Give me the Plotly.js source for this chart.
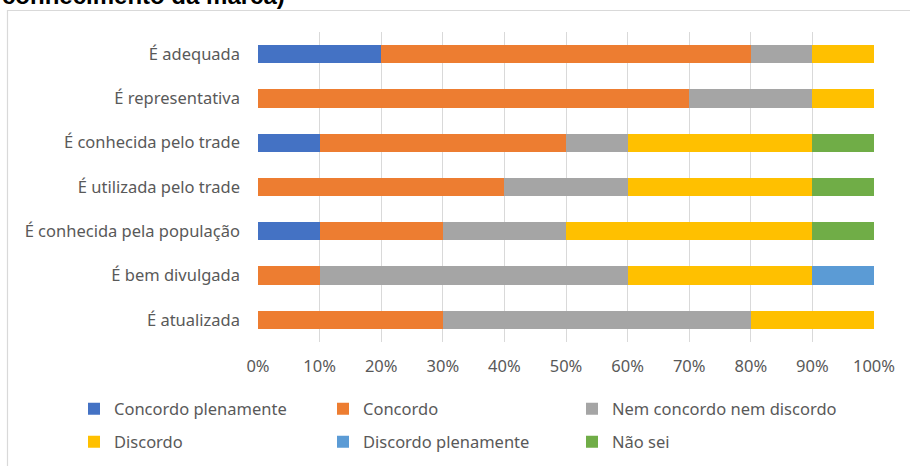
<!DOCTYPE html>
<html>
<head>
<meta charset="utf-8">
<script src="https://cdn.plot.ly/plotly-3.0.1.min.js"></script>
<style>html,body{margin:0;padding:0;background:#fff;}#chart{width:910px;height:466px;}</style>
</head>
<body>
<div id="chart"></div>
<script>
const categories = ["É adequada", "É representativa", "É conhecida pelo trade", "É utilizada pelo trade", "É conhecida pela população", "É bem divulgada", "É atualizada"];
const seriesNames = ["Concordo plenamente", "Concordo", "Nem concordo nem discordo", "Discordo", "Discordo plenamente", "Não sei"];
const concordoPlenamente = [0.20, 0.00, 0.10, 0.00, 0.10, 0.00, 0.00];
const concordo           = [0.60, 0.70, 0.40, 0.40, 0.20, 0.10, 0.30];
const nemNem             = [0.10, 0.20, 0.10, 0.20, 0.20, 0.50, 0.50];
const discordo           = [0.10, 0.10, 0.30, 0.30, 0.40, 0.30, 0.20];
const discordoPlenamente = [0.00, 0.00, 0.00, 0.00, 0.00, 0.10, 0.00];
const naoSei             = [0.00, 0.00, 0.10, 0.10, 0.10, 0.00, 0.00];
const seriesValues = [concordoPlenamente, concordo, nemNem, discordo, discordoPlenamente, naoSei];
const colors = ["#4472C4", "#ED7D31", "#A5A5A5", "#FFC000", "#5B9BD5", "#70AD47"];

const FONT = "Noto Sans, Open Sans, sans-serif";
const GREY = "#595959";
const FS = 16.5;

const legendIds = ["legend", "legend2", "legend3", "legend4", "legend5", "legend6"];

const traces = seriesNames.map((name, i) => ({
  type: "bar",
  orientation: "h",
  name: name,
  y: categories,
  x: seriesValues[i],
  marker: {color: colors[i], line: {width: 0}},
  legend: legendIds[i],
  hoverinfo: "name+x"
}));

const W = 910, H = 466;
const L = 258, R = 36, T = 32, B = 124;
const pw = W - L - R, ph = H - T - B;
const px = v => (v - L) / pw;
const py = v => (H - B - v) / ph;

// legend text start positions (px) and row centres (px)
const colX = [74, 323, 572];
const rowY = [409, 442];

const layout = {
  width: W, height: H,
  margin: {l: L, r: R, t: T, b: B, autoexpand: false},
  paper_bgcolor: "#ffffff",
  plot_bgcolor: "#ffffff",
  barmode: "stack",
  bargap: 0.59,
  font: {family: FONT, size: FS, color: GREY},
  xaxis: {
    range: [0, 1],
    dtick: 0.1,
    tickformat: ".0%",
    showgrid: true,
    gridcolor: "#D9D9D9",
    gridwidth: 1,
    zeroline: false,
    showline: false,
    ticks: "",
    ticklabelstandoff: 12,
    tickfont: {family: FONT, size: FS, color: GREY},
    fixedrange: true
  },
  yaxis: {
    type: "category",
    autorange: "reversed",
    showgrid: false,
    zeroline: false,
    showline: false,
    ticks: "",
    ticklabelstandoff: 17,
    tickfont: {family: FONT, size: FS, color: GREY},
    fixedrange: true
  },
  showlegend: true,
  shapes: [{
    type: "rect", xref: "paper", yref: "paper",
    x0: px(7.5), x1: px(930), y0: py(10.5), y1: py(490),
    line: {color: "#D9D9D9", width: 1.2}, fillcolor: "rgba(0,0,0,0)", layer: "below"
  }],
  annotations: [{
    xref: "paper", yref: "paper",
    x: px(0), y: py(11),
    xanchor: "left", yanchor: "bottom",
    text: "<b>conhecimento da marca)</b>",
    showarrow: false,
    font: {family: "Liberation Sans, Arial, sans-serif", size: 24, color: "#000000"}
  }]
};

legendIds.forEach((id, i) => {
  layout[id] = {
    orientation: "h",
    font: {family: FONT, size: FS, color: GREY},
    bgcolor: "rgba(0,0,0,0)",
    xanchor: "left",
    yanchor: "middle",
    x: px(colX[i % 3]),
    y: py(rowY[Math.floor(i / 3)])
  };
});

Plotly.newPlot("chart", traces, layout, {displayModeBar: false, staticPlot: true});
</script>
</body>
</html>
